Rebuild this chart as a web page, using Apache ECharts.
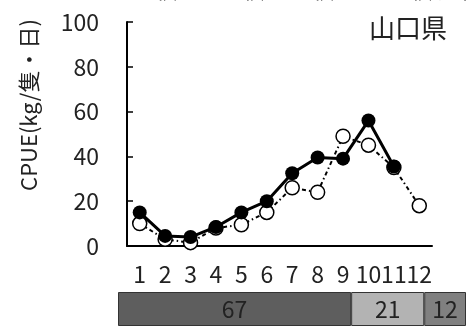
<!DOCTYPE html>
<html><head><meta charset="utf-8">
<script src="https://cdn.jsdelivr.net/npm/echarts@6/dist/echarts.min.js"></script>
<style>html,body{margin:0;padding:0;background:#fff}#c{width:473px;height:327px}</style>
</head><body><div id="c"></div>
<script>
const months = ['1','2','3','4','5','6','7','8','9','10','11','12'];
const cpueFilled = [15, 4.5, 4, 8.5, 15, 20, 32.5, 39.5, 39, 56, 35.5, null];
const cpueOpen = [10, 3, 1.5, 8, 9.5, 15, 26, 24, 49, 45, 35, 18];
const yTicks = [0, 20, 40, 60, 80, 100];
const shareNames = ['a', 'b', 'c'];
const shareValues = [67, 21, 12];
const topLabels = ['2枚', '2.5枚', '3枚', '3.5枚以下'];
const topLabelX = [143, 212, 300, 380];
const FONT = '"Noto Sans CJK JP", sans-serif';
const shareColors = ['#5e5e5e', '#b3b3b3', '#808080'];

const chart = echarts.init(document.getElementById('c'), null, {renderer: 'canvas'});
const graphics = topLabels.map((t, i) => ({
  type: 'text', left: topLabelX[i], top: -21,
  style: {text: t, fontSize: 22, fontFamily: FONT, fill: '#222'}
}));
graphics.push({
  type: 'text', x: 29, y: 105, rotation: Math.PI / 2,
  style: {text: 'CPUE(kg/隻・日)', fontSize: 22, fontFamily: FONT, fill: '#222', align: 'center', verticalAlign: 'middle'}
});
graphics.push({
  type: 'text', left: 369, top: 15,
  style: {text: '山口県', fontSize: 26, fontFamily: FONT, fill: '#222'}
});

chart.setOption({
  animation: false,
  graphic: graphics,
  grid: [
    {left: 127, right: 41, top: 22, bottom: 81},
    {left: 118, right: 7, top: 292, bottom: 1}
  ],
  xAxis: [
    {type: 'category', gridIndex: 0, data: months, boundaryGap: true,
      axisLine: {lineStyle: {color: '#000', width: 2}},
      axisTick: {inside: true, length: 6, lineStyle: {color: '#000', width: 1.5}, alignWithLabel: false},
      axisLabel: {interval: 0, hideOverlap: false, margin: 17, fontSize: 23, fontFamily: FONT, color: '#222'}
    },
    {type: 'value', gridIndex: 1, min: 0, max: 100, show: false}
  ],
  yAxis: [
    {type: 'value', gridIndex: 0, min: yTicks[0], max: yTicks[yTicks.length - 1], interval: 20,
      axisLine: {show: true, lineStyle: {color: '#000', width: 2}},
      axisTick: {show: true, inside: true, length: 6, lineStyle: {color: '#000', width: 1.5}},
      splitLine: {show: false},
      axisLabel: {margin: 28, fontSize: 23, fontFamily: FONT, color: '#222'}
    },
    {type: 'category', gridIndex: 1, data: ['s'], show: false}
  ],
  series: [
    {type: 'line', xAxisIndex: 0, yAxisIndex: 0, data: cpueOpen, z: 2,
      symbol: 'circle', symbolSize: 14,
      itemStyle: {color: '#fff', borderColor: '#000', borderWidth: 1.5},
      lineStyle: {color: '#000', width: 2, type: [4, 3, 1.5, 3]}
    },
    {type: 'line', xAxisIndex: 0, yAxisIndex: 0, data: cpueFilled, z: 3,
      symbol: 'circle', symbolSize: 14,
      itemStyle: {color: '#000'},
      lineStyle: {color: '#000', width: 3}
    }
  ].concat(shareValues.map((v, i) => ({
    type: 'bar', name: shareNames[i], xAxisIndex: 1, yAxisIndex: 1, stack: 'share',
    data: [v], barWidth: '100%',
    itemStyle: {color: shareColors[i], borderColor: '#333', borderWidth: 1},
    label: {show: true, position: 'inside', fontSize: 23, fontFamily: FONT, color: '#222', formatter: '{c}'}
  })))
});
</script></body></html>
